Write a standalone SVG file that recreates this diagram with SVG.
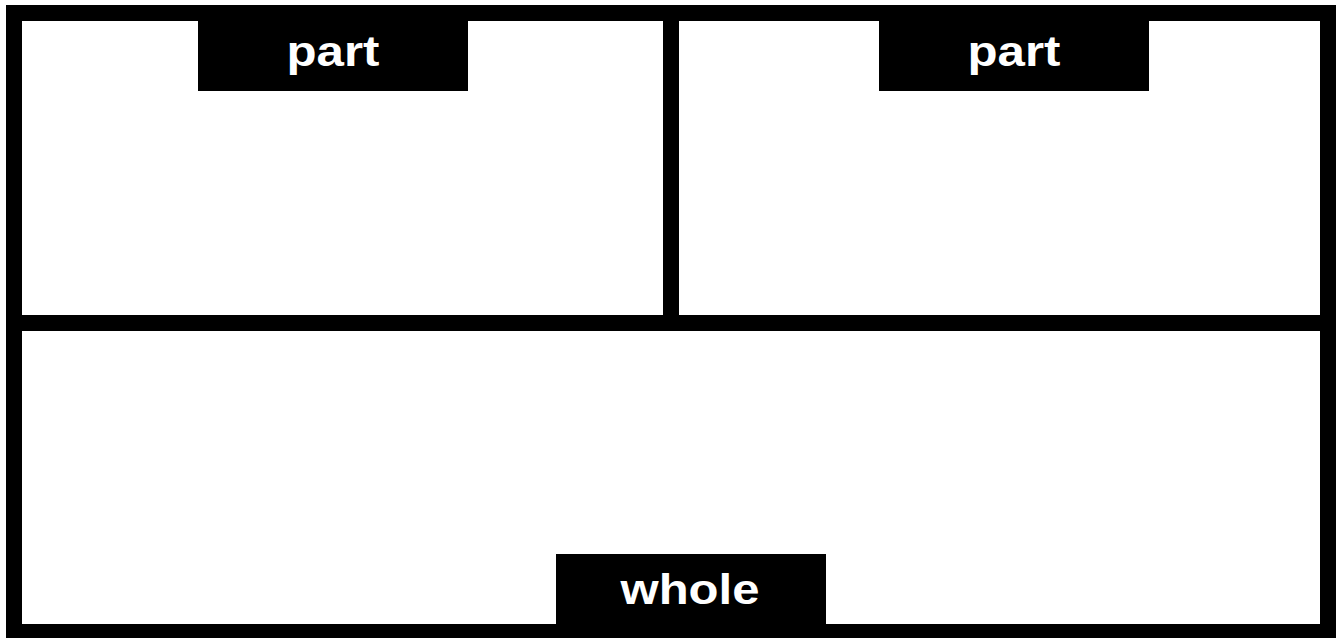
<svg xmlns="http://www.w3.org/2000/svg" width="1340" height="638" viewBox="0 0 1340 638">
<style>
.frame{fill:none;stroke:#000;stroke-width:16}
.tab{fill:#000}
.lbl{fill:#fff;font-family:"Liberation Sans",Arial,sans-serif;font-weight:bold;font-size:42px;text-anchor:middle}
</style>
<rect width="1340" height="638" fill="#fff"/>
<g id="connectors">
<rect class="frame" x="14" y="13" width="1314" height="619"/>
<line x1="14" y1="323" x2="1328" y2="323" stroke="#000" stroke-width="16"/>
<line x1="671" y1="5" x2="671" y2="331" stroke="#000" stroke-width="16"/>
</g>
<g id="part-left">
<rect class="tab" x="198" y="5" width="270" height="86"/>
<text class="lbl" x="333" y="66" textLength="93" lengthAdjust="spacingAndGlyphs">part</text>
</g>
<g id="part-right">
<rect class="tab" x="879" y="5" width="270" height="86"/>
<text class="lbl" x="1014" y="66" textLength="93" lengthAdjust="spacingAndGlyphs">part</text>
</g>
<g id="whole">
<rect class="tab" x="556" y="554" width="270" height="78"/>
<text class="lbl" x="690" y="604" textLength="139" lengthAdjust="spacingAndGlyphs">whole</text>
</g>
</svg>
